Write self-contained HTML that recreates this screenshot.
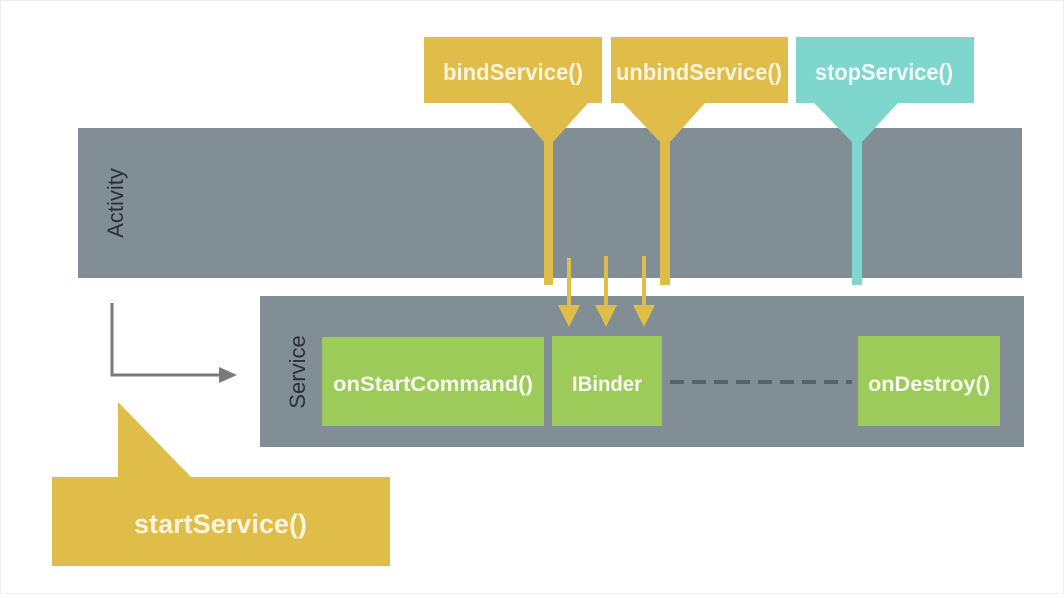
<!DOCTYPE html>
<html><head><style>
html,body{margin:0;padding:0;background:#fff;}
svg text{font-family:"Liberation Sans Narrow","Liberation Sans",sans-serif;font-weight:bold;}
</style></head><body>
<svg width="1064" height="594" viewBox="0 0 1064 594" xmlns="http://www.w3.org/2000/svg">
<rect x="0.5" y="0.5" width="1063" height="593" fill="#fff" stroke="#ececec"/>
<rect x="78" y="128" width="944" height="150" fill="#818e96"/>
<text transform="translate(123,203) rotate(-90)" text-anchor="middle" font-size="22" fill="#2b3035" style="font-family:'Liberation Sans',sans-serif;font-weight:normal">Activity</text>
<rect x="260" y="296" width="764" height="151" fill="#818e96"/>
<text transform="translate(305,372) rotate(-90)" text-anchor="middle" font-size="22" fill="#2b3035" style="font-family:'Liberation Sans',sans-serif;font-weight:normal">Service</text>
<rect x="322" y="337" width="222" height="89" fill="#9ccb5a"/>
<rect x="552" y="336" width="110" height="90" fill="#9ccb5a"/>
<rect x="858" y="336" width="142" height="90" fill="#9ccb5a"/>
<text x="333" y="391" font-size="21" fill="#f7faee" textLength="200" lengthAdjust="spacingAndGlyphs">onStartCommand()</text>
<text x="572" y="391" font-size="21" fill="#f7faee" textLength="70" lengthAdjust="spacingAndGlyphs">IBinder</text>
<text x="868" y="391" font-size="21" fill="#f7faee" textLength="122" lengthAdjust="spacingAndGlyphs">onDestroy()</text>
<line x1="670" y1="382" x2="852" y2="382" stroke="#56636b" stroke-width="4" stroke-dasharray="14,8"/>
<rect x="424" y="37" width="178" height="66" fill="#e0bc48"/>
<polygon points="510,103 588,103 553,142 544,142" fill="#e0bc48"/>
<rect x="544" y="130" width="9" height="155" fill="#e0bc48"/>
<rect x="611" y="37" width="177" height="66" fill="#e0bc48"/>
<polygon points="623,103 705,103 670,142 660,142" fill="#e0bc48"/>
<rect x="660" y="130" width="10" height="155" fill="#e0bc48"/>
<rect x="796" y="37" width="178" height="66" fill="#7fd6cc"/>
<polygon points="814,103 898,103 862,142 852,142" fill="#7fd6cc"/>
<rect x="852" y="130" width="10" height="155" fill="#7fd6cc"/>
<text x="443" y="80" font-size="23" fill="#fbf4dc" textLength="140" lengthAdjust="spacingAndGlyphs">bindService()</text>
<text x="616" y="80" font-size="23" fill="#fbf4dc" textLength="166" lengthAdjust="spacingAndGlyphs">unbindService()</text>
<text x="815" y="80" font-size="23" fill="#f2fbfa" textLength="138" lengthAdjust="spacingAndGlyphs">stopService()</text>
<g fill="#e0bc48">
<rect x="567" y="258" width="4" height="50"/><polygon points="558,305 580,305 569,327"/>
<rect x="604" y="256" width="4" height="52"/><polygon points="595,305 617,305 606,327"/>
<rect x="642" y="256" width="4" height="52"/><polygon points="633,305 655,305 644,327"/>
</g>
<polyline points="112,303 112,375 222,375" fill="none" stroke="#7a7a7a" stroke-width="3"/>
<polygon points="219,367 237,375 219,383" fill="#7a7a7a"/>
<polygon points="118,402 191,477 118,477" fill="#e0bc48"/>
<rect x="52" y="477" width="338" height="89" fill="#e0bc48"/>
<text x="134" y="533" font-size="27" fill="#fbf4dc" textLength="173" lengthAdjust="spacingAndGlyphs">startService()</text>
</svg>
</body></html>
